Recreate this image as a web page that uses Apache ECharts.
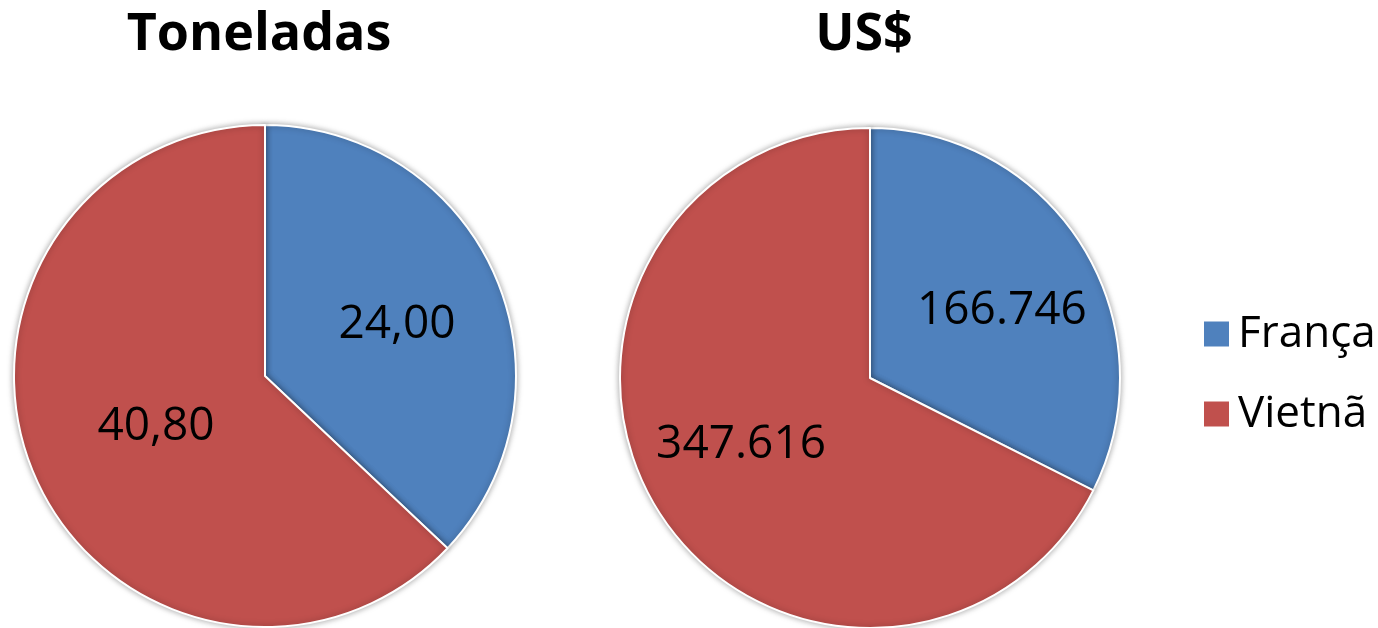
<!DOCTYPE html>
<html>
<head>
<meta charset="utf-8">
<script src="https://cdn.jsdelivr.net/npm/echarts@6/dist/echarts.min.js"></script>
<style>
  html, body { margin: 0; padding: 0; background: #fff; }
  #main { width: 1378px; height: 628px; }
</style>
</head>
<body>
<div id="main"></div>
<script>
var dom = document.getElementById("main");
var myChart = echarts.init(dom);

var countries = ['França', 'Vietnã'];
var toneladas = [24.00, 40.80];
var dolares = [166746, 347616];
var colors = ['#4F81BD', '#C0504D'];

// nudges for the inside labels (padding: top, right, bottom, left)
var tonPad = [[0, 0, 10, 28], [0, 0, 0, 18]];
var usdPad = [[16, 0, 0, 46], [0, 40, 30, 0]];

function fmtTon(v) {
    return v.toFixed(2).replace('.', ',');
}
function fmtUsd(v) {
    return String(v).replace(/\B(?=(\d{3})+(?!\d))/g, '.');
}

function buildData(values, pads) {
    return countries.map(function (c, i) {
        return { name: c, value: values[i], label: { padding: pads[i] } };
    });
}

var fontFam = '"Open Sans", "Noto Sans", sans-serif';

var pieStyle = {
    borderColor: '#fff',
    borderWidth: 2,
    shadowBlur: 6,
    shadowColor: 'rgba(0,0,0,0.35)'
};

option = {
    color: colors,
    animation: false,
    title: [{
        text: 'Toneladas',
        left: 254,
        top: 4,
        textAlign: 'center',
        textStyle: { fontFamily: fontFam, fontWeight: 'bold', fontSize: 52, color: '#000' }
    }, {
        text: 'US$',
        left: 859,
        top: 4,
        textAlign: 'center',
        textStyle: { fontFamily: fontFam, fontWeight: 'bold', fontSize: 52, color: '#000' }
    }],
    legend: {
        orient: 'vertical',
        left: 1197,
        top: 307,
        itemWidth: 27,
        itemHeight: 27,
        itemGap: 36,
        icon: 'rect',
        textStyle: { fontFamily: fontFam, fontSize: 44, color: '#000', padding: [0, 0, 0, 3] },
        data: countries
    },
    series: [{
        type: 'pie',
        center: [265, 376],
        radius: 251,
        startAngle: 90,
        clockwise: true,
        itemStyle: pieStyle,
        label: {
            position: 'inside',
            fontFamily: fontFam,
            fontSize: 46,
            color: '#000',
            formatter: function (p) { return fmtTon(p.value); }
        },
        labelLine: { show: false },
        data: buildData(toneladas, tonPad)
    }, {
        type: 'pie',
        center: [870, 378],
        radius: 250,
        startAngle: 90,
        clockwise: true,
        itemStyle: pieStyle,
        label: {
            position: 'inside',
            fontFamily: fontFam,
            fontSize: 46,
            color: '#000',
            formatter: function (p) { return fmtUsd(p.value); }
        },
        labelLine: { show: false },
        data: buildData(dolares, usdPad)
    }]
};

if (option && typeof option === "object") {
    myChart.setOption(option, true);
}
</script>
</body>
</html>
